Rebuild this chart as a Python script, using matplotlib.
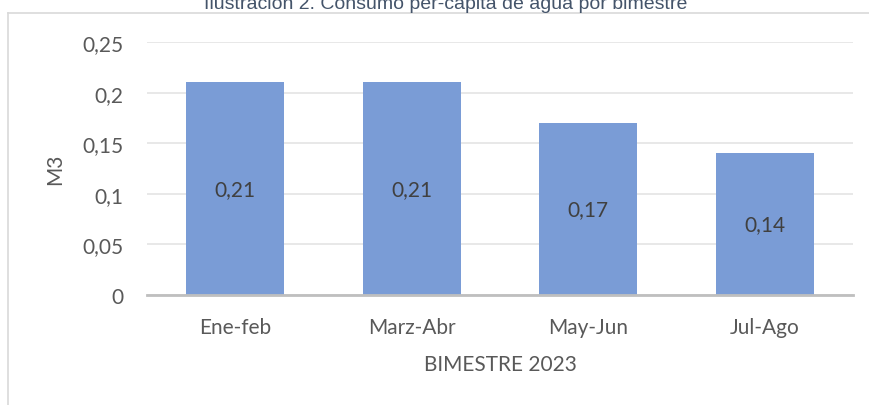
import matplotlib.pyplot as plt
from matplotlib.lines import Line2D

# data
categories = ["Ene-feb", "Marz-Abr", "May-Jun", "Jul-Ago"]
consumo = [0.21, 0.21, 0.17, 0.14]
y_ticks = [0, 0.05, 0.1, 0.15, 0.2, 0.25]
y_tick_labels = ["0", "0,05", "0,1", "0,15", "0,2", "0,25"]

TXT = "#595959"
BAR = "#7A9CD6"
GRID = "#E4E4E4"
FONT = ["Lato", "DejaVu Sans"]

W, H = 870, 406
fig = plt.figure(figsize=(W / 100, H / 100), dpi=100)
ax = fig.add_axes([147 / W, 1 - 296 / H, (853 - 147) / W, (296 - 43) / H])

bars = ax.bar(range(len(categories)), consumo, width=0.555, color=BAR, zorder=3)
ax.bar_label(bars, labels=[f"{v:.2f}".replace(".", ",") for v in consumo],
             label_type="center", color="#404040", fontsize=15, family=FONT)

ax.set_xlim(-0.5, len(categories) - 0.5)
ax.set_ylim(0, 0.25)
ax.set_yticks(y_ticks)
ax.set_yticklabels(y_tick_labels, family=FONT, fontsize=15, color=TXT)
ax.set_xticks(range(len(categories)))
ax.set_xticklabels(categories, family=FONT, fontsize=15, color=TXT)
ax.tick_params(axis="y", length=0, pad=17)
ax.tick_params(axis="x", length=0, pad=16)

ax.grid(axis="y", color=GRID, lw=1.2, zorder=0)
for side in ["top", "right", "left"]:
    ax.spines[side].set_visible(False)
ax.spines["bottom"].set_color("#BFBFBF")
ax.spines["bottom"].set_linewidth(2)
ax.spines["bottom"].set_zorder(4)

ax.set_xlabel("BIMESTRE 2023", family=FONT, fontsize=15, color=TXT, labelpad=12)
ax.set_ylabel("M3", family=FONT, fontsize=15, color=TXT, labelpad=12)

# chart frame (only top and left edges visible)
fig.add_artist(Line2D([8 / W, 1], [1 - 14 / H, 1 - 14 / H], color="#D9D9D9", lw=1.2))
fig.add_artist(Line2D([8 / W, 8 / W], [0, 1 - 14 / H], color="#D9D9D9", lw=1.2))

# title, cut off at the top edge like the reference
fig.text(446 / W, 1 - 9 / H, "Ilustración 2. Consumo per-cápita de agua por bimestre",
         ha="center", va="baseline", fontsize=14, color="#44546A",
         family=["Liberation Sans Narrow", "Liberation Sans"])

fig.savefig("out.png", dpi=100)
